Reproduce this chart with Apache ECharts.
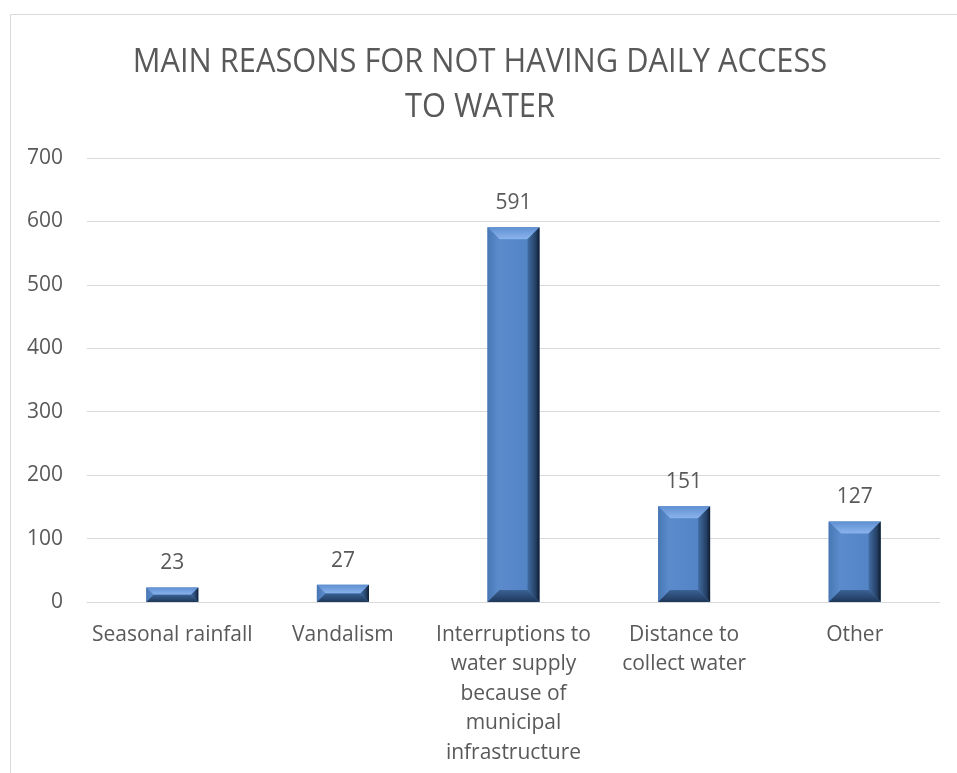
<!DOCTYPE html>
<html>
<head>
<meta charset="utf-8">
<script src="https://cdn.jsdelivr.net/npm/echarts@6/dist/echarts.min.js"></script>
<style>
  html, body { margin: 0; padding: 0; background: #ffffff; }
  #chart { width: 957px; height: 773px; }
</style>
</head>
<body>
<div id="chart"></div>
<script>
const categories = [
  'Seasonal rainfall',
  'Vandalism',
  'Interruptions to\nwater supply\nbecause of\nmunicipal\ninfrastructure',
  'Distance to\ncollect water',
  'Other'
];
const counts = [23, 27, 591, 151, 127];
const yTicks = [0, 100, 200, 300, 400, 500, 600, 700];
const titleLines = ['MAIN REASONS FOR NOT HAVING DAILY ACCESS', 'TO WATER'];

const FONT = '"Open Sans", Lato, sans-serif';
const TEXT = '#595959';

// Bevelled column: front face plus four sloped edges
function renderBevelBar(params, api) {
  const idx = api.value(0);
  const val = api.value(1);
  const top = api.coord([idx, val]);
  const base = api.coord([idx, 0]);
  const w = api.size([1, 0])[0] * 0.305;
  const x0 = top[0] - w / 2, x1 = top[0] + w / 2;
  const y0 = top[1], y1 = base[1];
  const h = y1 - y0;
  const bx = Math.min(12, w / 2, h / 2);
  const by = Math.min(12, h / 2);
  const poly = (pts, fill) => ({ type: 'polygon', shape: { points: pts }, style: { fill: fill } });
  return {
    type: 'group',
    children: [
      { type: 'rect', shape: { x: x0, y: y0, width: w, height: h }, style: { fill: '#4f81bd' } },
      // front face
      { type: 'rect', shape: { x: x0 + bx, y: y0 + by, width: w - 2 * bx, height: Math.max(0, h - 2 * by) },
        style: { fill: { type: 'linear', x: 0, y: 0, x2: 1, y2: 0,
          colorStops: [{ offset: 0, color: '#5b8bcc' }, { offset: 1, color: '#5384c6' }] } } },
      // top edge
      poly([[x0, y0], [x1, y0], [x1 - bx, y0 + by], [x0 + bx, y0 + by]],
        { type: 'linear', x: 0, y: 0, x2: 0, y2: 1,
          colorStops: [{ offset: 0, color: '#5f90d2' }, { offset: 1, color: '#8ab3ec' }] }),
      // left edge
      poly([[x0, y0], [x0 + bx, y0 + by], [x0 + bx, y1 - by], [x0, y1]],
        { type: 'linear', x: 0, y: 0, x2: 1, y2: 0,
          colorStops: [{ offset: 0, color: '#4877b4' }, { offset: 1, color: '#5d8dce' }] }),
      // right edge
      poly([[x1, y0], [x1, y1], [x1 - bx, y1 - by], [x1 - bx, y0 + by]],
        { type: 'linear', x: 0, y: 0, x2: 1, y2: 0,
          colorStops: [{ offset: 0, color: '#426ca3' }, { offset: 0.7, color: '#243f63' }, { offset: 1, color: '#0d1a2c' }] }),
      // bottom edge
      poly([[x0, y1], [x0 + bx, y1 - by], [x1 - bx, y1 - by], [x1, y1]],
        { type: 'linear', x: 0, y: 0, x2: 0, y2: 1,
          colorStops: [{ offset: 0, color: '#3b6294' }, { offset: 1, color: '#1e375a' }] }),
      { type: 'text', style: { text: String(val), x: top[0], y: y0 - 24, align: 'center', verticalAlign: 'middle',
          fill: TEXT, font: '21px ' + FONT } }
    ]
  };
}

const chart = echarts.init(document.getElementById('chart'), null, { renderer: 'canvas' });
chart.setOption({
  backgroundColor: '#ffffff',
  animation: false,
  graphic: [
    { type: 'rect', shape: { x: 10.5, y: 14.5, width: 1000, height: 1000 },
      style: { fill: 'none', stroke: '#d9d9d9', lineWidth: 1 }, silent: true },
    { type: 'text', x: 480, y: 63, scaleX: 0.963, silent: true,
      style: { text: titleLines[0], align: 'center', verticalAlign: 'middle',
        font: '32px ' + FONT, fill: TEXT } },
    { type: 'text', x: 480, y: 108, scaleX: 0.963, silent: true,
      style: { text: titleLines[1], align: 'center', verticalAlign: 'middle',
        font: '32px ' + FONT, fill: TEXT } }
  ],
  grid: { left: 87, right: 17, top: 158, bottom: 171 },
  xAxis: {
    type: 'category',
    data: categories,
    axisLine: { show: true, lineStyle: { color: '#d9d9d9' } },
    axisTick: { show: false },
    axisLabel: { color: TEXT, fontFamily: FONT, fontSize: 21, lineHeight: 29.5, margin: 18, interval: 0 }
  },
  yAxis: {
    type: 'value',
    min: 0, max: 700, interval: 100,
    axisLine: { show: false },
    axisTick: { show: false },
    splitLine: { lineStyle: { color: '#d9d9d9' } },
    axisLabel: { color: TEXT, fontFamily: FONT, fontSize: 21, margin: 24,
      formatter: v => yTicks.includes(v) ? String(v) : '' }
  },
  series: [{
    type: 'custom',
    renderItem: renderBevelBar,
    encode: { x: 0, y: 1 },
    data: counts.map((v, i) => [i, v])
  }]
});
</script>
</body>
</html>
